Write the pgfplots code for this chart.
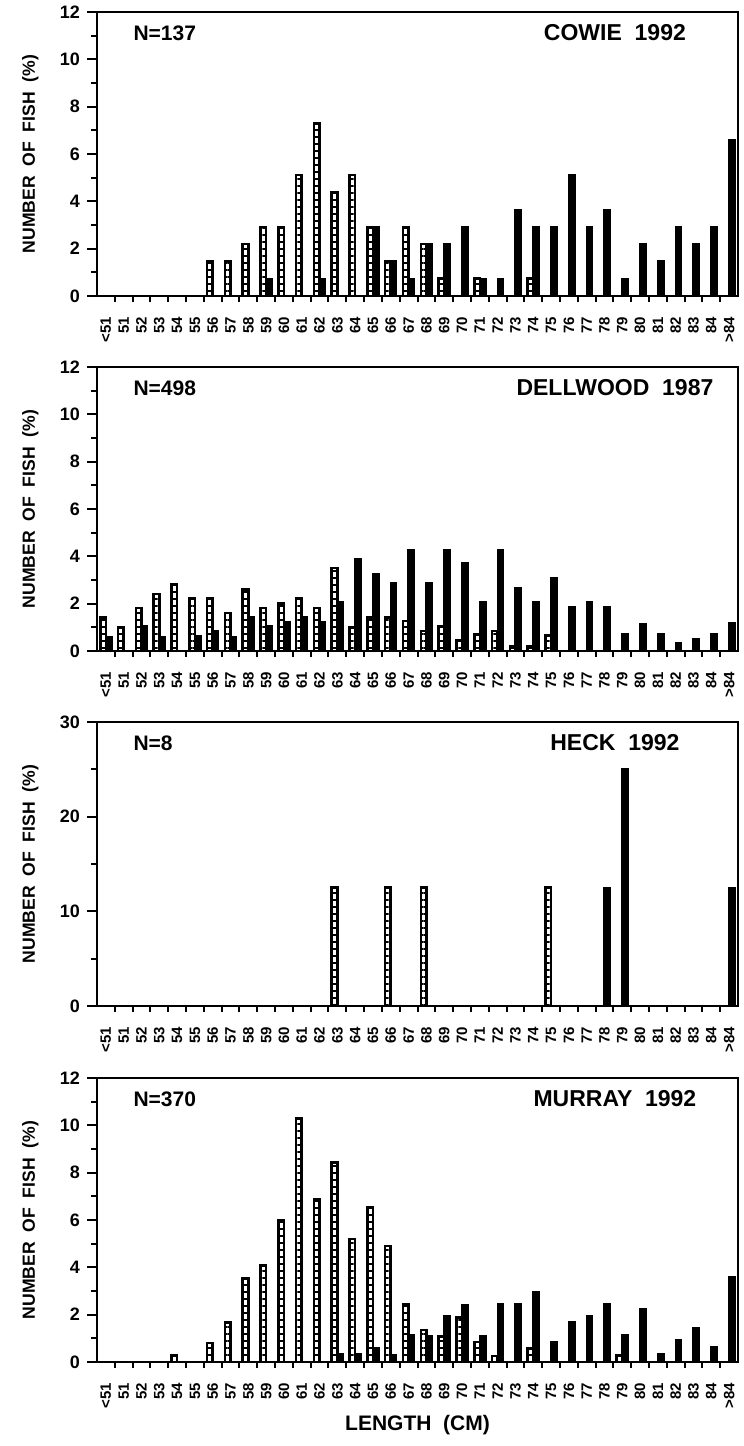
\documentclass[border=0pt]{standalone}
\usepackage{fontspec}
\setmainfont{Liberation Sans}
\usepackage{pgfplots}
\pgfplotsset{compat=1.18}
\usetikzlibrary{patterns.meta}

% length classes: <51 = 0, 51..84 = 1..34, >84 = 35
\pgfplotsset{
  panel/.style={
    scale only axis,
    width=320.5pt, height=142pt,
    xmin=-0.5, xmax=35.5, ymin=0,
    ybar=0pt, bar width=2.8pt,
    axis line style={line width=1.3pt},
    tick align=outside, tick pos=left,
    tick style={line width=1pt, black},
    major tick length=5pt, minor tick length=3pt,
    xtick={0,...,35},
    xticklabels={<51,51,52,53,54,55,56,57,58,59,60,61,62,63,64,65,66,67,68,69,70,71,72,73,74,75,76,77,78,79,80,81,82,83,84,>84},
    major x tick style={draw=none},
    minor xtick={0.5,1.5,...,34.5},
    minor y tick num=1,
    xticklabel shift=2pt,
    x tick label style={rotate=90, anchor=east, font=\bfseries\fontsize{7.5}{7.5}\selectfont},
    y tick label style={font=\bfseries\fontsize{9}{9}\selectfont},
    /pgf/number format/assume math mode=true,
    ylabel={NUMBER~~OF~~FISH~~(\%)},
    ylabel style={at={(axis description cs:-0.104,0.5)}, anchor=center,
      font=\bfseries\fontsize{8.8}{8.8}\selectfont},
  },
}
\tikzset{
  hatch/.style={draw=black, line width=1.3pt, fill=white,
    postaction={pattern={Lines[angle=0,distance=3.5pt,line width=1.1pt]}}},
  solidbar/.style={draw=black, line width=1.1pt, fill=black},
  tagfont/.style={font=\bfseries\fontsize{10.5}{10.5}\selectfont},
  namefont/.style={font=\bfseries\fontsize{11.5}{11.5}\selectfont},
}

\begin{document}
\begin{tikzpicture}
\useasboundingbox (0,0) rectangle (372pt,-723pt);

% ---- Cowie 1992
\begin{axis}[panel, at={(48.5pt,-6pt)}, anchor=north west,
  ymax=12, ytick={0,2,...,12}]
\addplot[hatch] coordinates {
  (6,1.46)(7,1.46)(8,2.19)(9,2.92)(10,2.92)(11,5.11)(12,7.30)(13,4.38)
  (14,5.11)(15,2.92)(16,1.46)(17,2.92)(18,2.19)(19,0.73)(21,0.73)(24,0.73)};
\addplot[solidbar] coordinates {
  (9,0.73)(12,0.73)(15,2.92)(16,1.46)(17,0.73)(18,2.19)(19,2.19)(20,2.92)
  (21,0.73)(22,0.73)(23,3.65)(24,2.92)(25,2.92)(26,5.11)(27,2.92)(28,3.65)
  (29,0.73)(30,2.19)(31,1.46)(32,2.92)(33,2.19)(34,2.92)(35,6.57)};
\node[tagfont, anchor=west] at (rel axis cs:0.046,0.926) {N=137};
\node[namefont] at (rel axis cs:0.808,0.926) {COWIE~~1992};
\end{axis}

% ---- Dellwood 1987
\begin{axis}[panel, at={(48.5pt,-183.5pt)}, anchor=north west,
  ymax=12, ytick={0,2,...,12}]
\addplot[hatch] coordinates {
  (0,1.41)(1,1.00)(2,1.81)(3,2.41)(4,2.81)(5,2.21)(6,2.21)(7,1.61)(8,2.61)
  (9,1.81)(10,2.01)(11,2.21)(12,1.81)(13,3.51)(14,1.00)(15,1.41)(16,1.41)
  (17,1.26)(18,0.84)(19,1.05)(20,0.45)(21,0.70)(22,0.85)(23,0.22)(24,0.22)
  (25,0.65)};
\addplot[solidbar] coordinates {
  (0,0.60)(2,1.05)(3,0.60)(5,0.63)(6,0.84)(7,0.60)(8,1.43)(9,1.05)(10,1.23)
  (11,1.43)(12,1.23)(13,2.06)(14,3.89)(15,3.27)(16,2.88)(17,4.28)(18,2.88)
  (19,4.28)(20,3.72)(21,2.06)(22,4.28)(23,2.67)(24,2.06)(25,3.09)(26,1.87)
  (27,2.06)(28,1.87)(29,0.70)(30,1.12)(31,0.70)(32,0.32)(33,0.52)(34,0.73)
  (35,1.16)};
\node[tagfont, anchor=west] at (rel axis cs:0.046,0.926) {N=498};
\node[namefont] at (rel axis cs:0.808,0.926) {DELLWOOD~~1987};
\end{axis}

% ---- Heck 1992
\begin{axis}[panel, at={(48.5pt,-361pt)}, anchor=north west,
  ymax=30, ytick={0,10,20,30}]
\addplot[hatch] coordinates {(13,12.5)(16,12.5)(18,12.5)(25,12.5)};
\addplot[solidbar] coordinates {(28,12.5)(29,25)(35,12.5)};
\node[tagfont, anchor=west] at (rel axis cs:0.046,0.926) {N=8};
\node[namefont] at (rel axis cs:0.808,0.926) {HECK~~1992};
\end{axis}

% ---- Murray 1992
\begin{axis}[panel, at={(48.5pt,-539pt)}, anchor=north west,
  ymax=12, ytick={0,2,...,12},
  xlabel={LENGTH~~(CM)},
  xlabel style={at={(axis description cs:0.5,-0.222)}, anchor=center,
    font=\bfseries\fontsize{10.5}{10.5}\selectfont}]
\addplot[hatch] coordinates {
  (4,0.27)(6,0.81)(7,1.68)(8,3.54)(9,4.08)(10,6.00)(11,10.30)(12,6.86)
  (13,8.43)(14,5.19)(15,6.55)(16,4.91)(17,2.43)(18,1.36)(19,1.09)(20,1.89)
  (21,0.84)(22,0.25)(24,0.56)(29,0.28)};
\addplot[solidbar] coordinates {
  (13,0.32)(14,0.32)(15,0.60)(16,0.30)(17,1.12)(18,1.09)(19,1.92)(20,2.40)
  (21,1.09)(22,2.43)(23,2.43)(24,2.95)(25,0.84)(26,1.68)(27,1.94)(28,2.46)
  (29,1.12)(30,2.22)(31,0.32)(32,0.91)(33,1.45)(34,0.63)(35,3.60)};
\node[tagfont, anchor=west] at (rel axis cs:0.046,0.926) {N=370};
\node[namefont] at (rel axis cs:0.808,0.926) {MURRAY~~1992};
\end{axis}
\end{tikzpicture}
\end{document}
